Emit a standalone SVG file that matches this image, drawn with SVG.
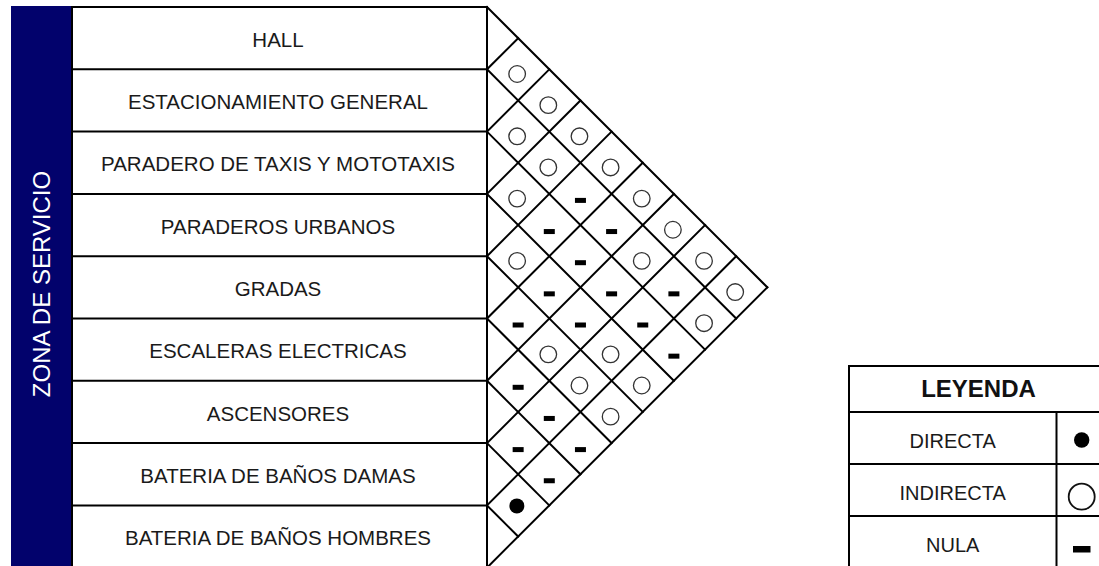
<svg xmlns="http://www.w3.org/2000/svg" xmlns:xlink="http://www.w3.org/1999/xlink" width="1099" height="566" viewBox="0 0 1099 566">
<style>
.ln{stroke:#000;stroke-width:2;fill:none;stroke-linecap:square}
.box{fill:#fff;stroke:#000;stroke-width:2}
.lbl{font-family:"Liberation Sans",Arial,sans-serif;font-size:20.5px;fill:#1a1a1a;text-anchor:middle}
.leg{font-family:"Liberation Sans",Arial,sans-serif;font-size:20px;fill:#1a1a1a;text-anchor:middle}
.legh{font-family:"Liberation Sans",Arial,sans-serif;font-size:24px;font-weight:bold;fill:#111;text-anchor:middle}
.zone{font-family:"Liberation Sans",Arial,sans-serif;font-size:24px;fill:#fff;text-anchor:middle}
.ind{fill:none;stroke:#333;stroke-width:1.3}
.nul{fill:#000}
.dir{fill:#000}
</style>
<defs>
<circle id="ind" class="ind" r="8.3"/>
<rect id="nul" class="nul" x="-5.5" y="-2.5" width="11" height="5"/>
</defs>
<rect width="1099" height="566" fill="#fff"/>

<g id="zona-servicio">
<rect x="11" y="6" width="61" height="570" fill="#02026c"/>
<text class="zone" transform="translate(50,284) rotate(-90)">ZONA DE SERVICIO</text>
</g>

<g id="tabla">
<rect class="box" x="72" y="7" width="415" height="560.7"/>
<g id="row-hall"><text class="lbl" x="278" y="46.7">HALL</text></g>
<g id="row-estacionamiento"><line class="ln" x1="72" y1="69.3" x2="487" y2="69.3"/><text class="lbl" x="278" y="109">ESTACIONAMIENTO GENERAL</text></g>
<g id="row-taxis"><line class="ln" x1="72" y1="131.6" x2="487" y2="131.6"/><text class="lbl" x="278" y="171.3">PARADERO DE TAXIS Y MOTOTAXIS</text></g>
<g id="row-urbanos"><line class="ln" x1="72" y1="193.9" x2="487" y2="193.9"/><text class="lbl" x="278" y="233.6">PARADEROS URBANOS</text></g>
<g id="row-gradas"><line class="ln" x1="72" y1="256.2" x2="487" y2="256.2"/><text class="lbl" x="278" y="295.9">GRADAS</text></g>
<g id="row-escaleras"><line class="ln" x1="72" y1="318.5" x2="487" y2="318.5"/><text class="lbl" x="278" y="358.2">ESCALERAS ELECTRICAS</text></g>
<g id="row-ascensores"><line class="ln" x1="72" y1="380.8" x2="487" y2="380.8"/><text class="lbl" x="278" y="420.5">ASCENSORES</text></g>
<g id="row-damas"><line class="ln" x1="72" y1="443.1" x2="487" y2="443.1"/><text class="lbl" x="278" y="482.8">BATERIA DE BAÑOS DAMAS</text></g>
<g id="row-hombres"><line class="ln" x1="72" y1="505.4" x2="487" y2="505.4"/><text class="lbl" x="278" y="545.1">BATERIA DE BAÑOS HOMBRES</text></g>
</g>

<g id="matrix-grid">
<line class="ln" x1="487" y1="7" x2="767.35" y2="287.35"/>
<line class="ln" x1="487" y1="69.3" x2="736.2" y2="318.5"/>
<line class="ln" x1="487" y1="131.6" x2="705.05" y2="349.65"/>
<line class="ln" x1="487" y1="193.9" x2="673.9" y2="380.8"/>
<line class="ln" x1="487" y1="256.2" x2="642.75" y2="411.95"/>
<line class="ln" x1="487" y1="318.5" x2="611.6" y2="443.1"/>
<line class="ln" x1="487" y1="380.8" x2="580.45" y2="474.25"/>
<line class="ln" x1="487" y1="443.1" x2="549.3" y2="505.4"/>
<line class="ln" x1="487" y1="505.4" x2="518.15" y2="536.55"/>
<line class="ln" x1="487" y1="69.3" x2="518.15" y2="38.15"/>
<line class="ln" x1="487" y1="131.6" x2="549.3" y2="69.3"/>
<line class="ln" x1="487" y1="193.9" x2="580.45" y2="100.45"/>
<line class="ln" x1="487" y1="256.2" x2="611.6" y2="131.6"/>
<line class="ln" x1="487" y1="318.5" x2="642.75" y2="162.75"/>
<line class="ln" x1="487" y1="380.8" x2="673.9" y2="193.9"/>
<line class="ln" x1="487" y1="443.1" x2="705.05" y2="225.05"/>
<line class="ln" x1="487" y1="505.4" x2="736.2" y2="256.2"/>
<line class="ln" x1="487" y1="567.7" x2="767.35" y2="287.35"/>
</g>

<g id="matrix-symbols">
<use xlink:href="#ind" x="517.15" y="74"/>
<use xlink:href="#ind" x="517.15" y="136.3"/>
<use xlink:href="#ind" x="517.15" y="198.6"/>
<use xlink:href="#ind" x="517.15" y="260.9"/>
<use xlink:href="#nul" x="518.15" y="325"/>
<use xlink:href="#nul" x="518.15" y="387.3"/>
<use xlink:href="#nul" x="518.15" y="449.6"/>
<circle class="dir" cx="516.85" cy="505.9" r="7.5"/>

<use xlink:href="#ind" x="548.3" y="105.15"/>
<use xlink:href="#ind" x="548.3" y="167.45"/>
<use xlink:href="#nul" x="549.3" y="231.55"/>
<use xlink:href="#nul" x="549.3" y="293.85"/>
<use xlink:href="#ind" x="548.3" y="354.35"/>
<use xlink:href="#nul" x="549.3" y="418.45"/>
<use xlink:href="#nul" x="549.3" y="480.75"/>

<use xlink:href="#ind" x="579.45" y="136.3"/>
<use xlink:href="#nul" x="580.45" y="200.4"/>
<use xlink:href="#nul" x="580.45" y="262.7"/>
<use xlink:href="#nul" x="580.45" y="325"/>
<use xlink:href="#ind" x="579.45" y="385.5"/>
<use xlink:href="#nul" x="580.45" y="449.6"/>

<use xlink:href="#ind" x="610.6" y="167.45"/>
<use xlink:href="#nul" x="611.6" y="231.55"/>
<use xlink:href="#nul" x="611.6" y="293.85"/>
<use xlink:href="#ind" x="610.6" y="354.35"/>
<use xlink:href="#ind" x="610.6" y="416.65"/>

<use xlink:href="#ind" x="641.75" y="198.6"/>
<use xlink:href="#ind" x="641.75" y="260.9"/>
<use xlink:href="#nul" x="642.75" y="325"/>
<use xlink:href="#ind" x="641.75" y="385.5"/>

<use xlink:href="#ind" x="672.9" y="229.75"/>
<use xlink:href="#nul" x="673.9" y="293.85"/>
<use xlink:href="#nul" x="673.9" y="356.15"/>

<use xlink:href="#ind" x="704.05" y="260.9"/>
<use xlink:href="#ind" x="704.05" y="323.2"/>

<use xlink:href="#ind" x="735.2" y="292.05"/>
</g>

<g id="leyenda">
<rect class="box" x="849" y="366" width="259" height="202"/>
<line class="ln" x1="849" y1="412" x2="1108" y2="412"/>
<line class="ln" x1="849" y1="464" x2="1108" y2="464"/>
<line class="ln" x1="849" y1="516" x2="1108" y2="516"/>
<line class="ln" x1="1056.5" y1="412" x2="1056.5" y2="568"/>
<text class="legh" x="978.5" y="397">LEYENDA</text>
<text class="leg" x="952.7" y="448">DIRECTA</text>
<text class="leg" x="952.7" y="500">INDIRECTA</text>
<text class="leg" x="952.7" y="551.5">NULA</text>
<circle class="dir" cx="1081.7" cy="440" r="7.7"/>
<circle cx="1081.7" cy="496.7" r="13" fill="none" stroke="#111" stroke-width="1.8"/>
<rect x="1073" y="546" width="17.5" height="6.5" fill="#000"/>
</g>
</svg>
